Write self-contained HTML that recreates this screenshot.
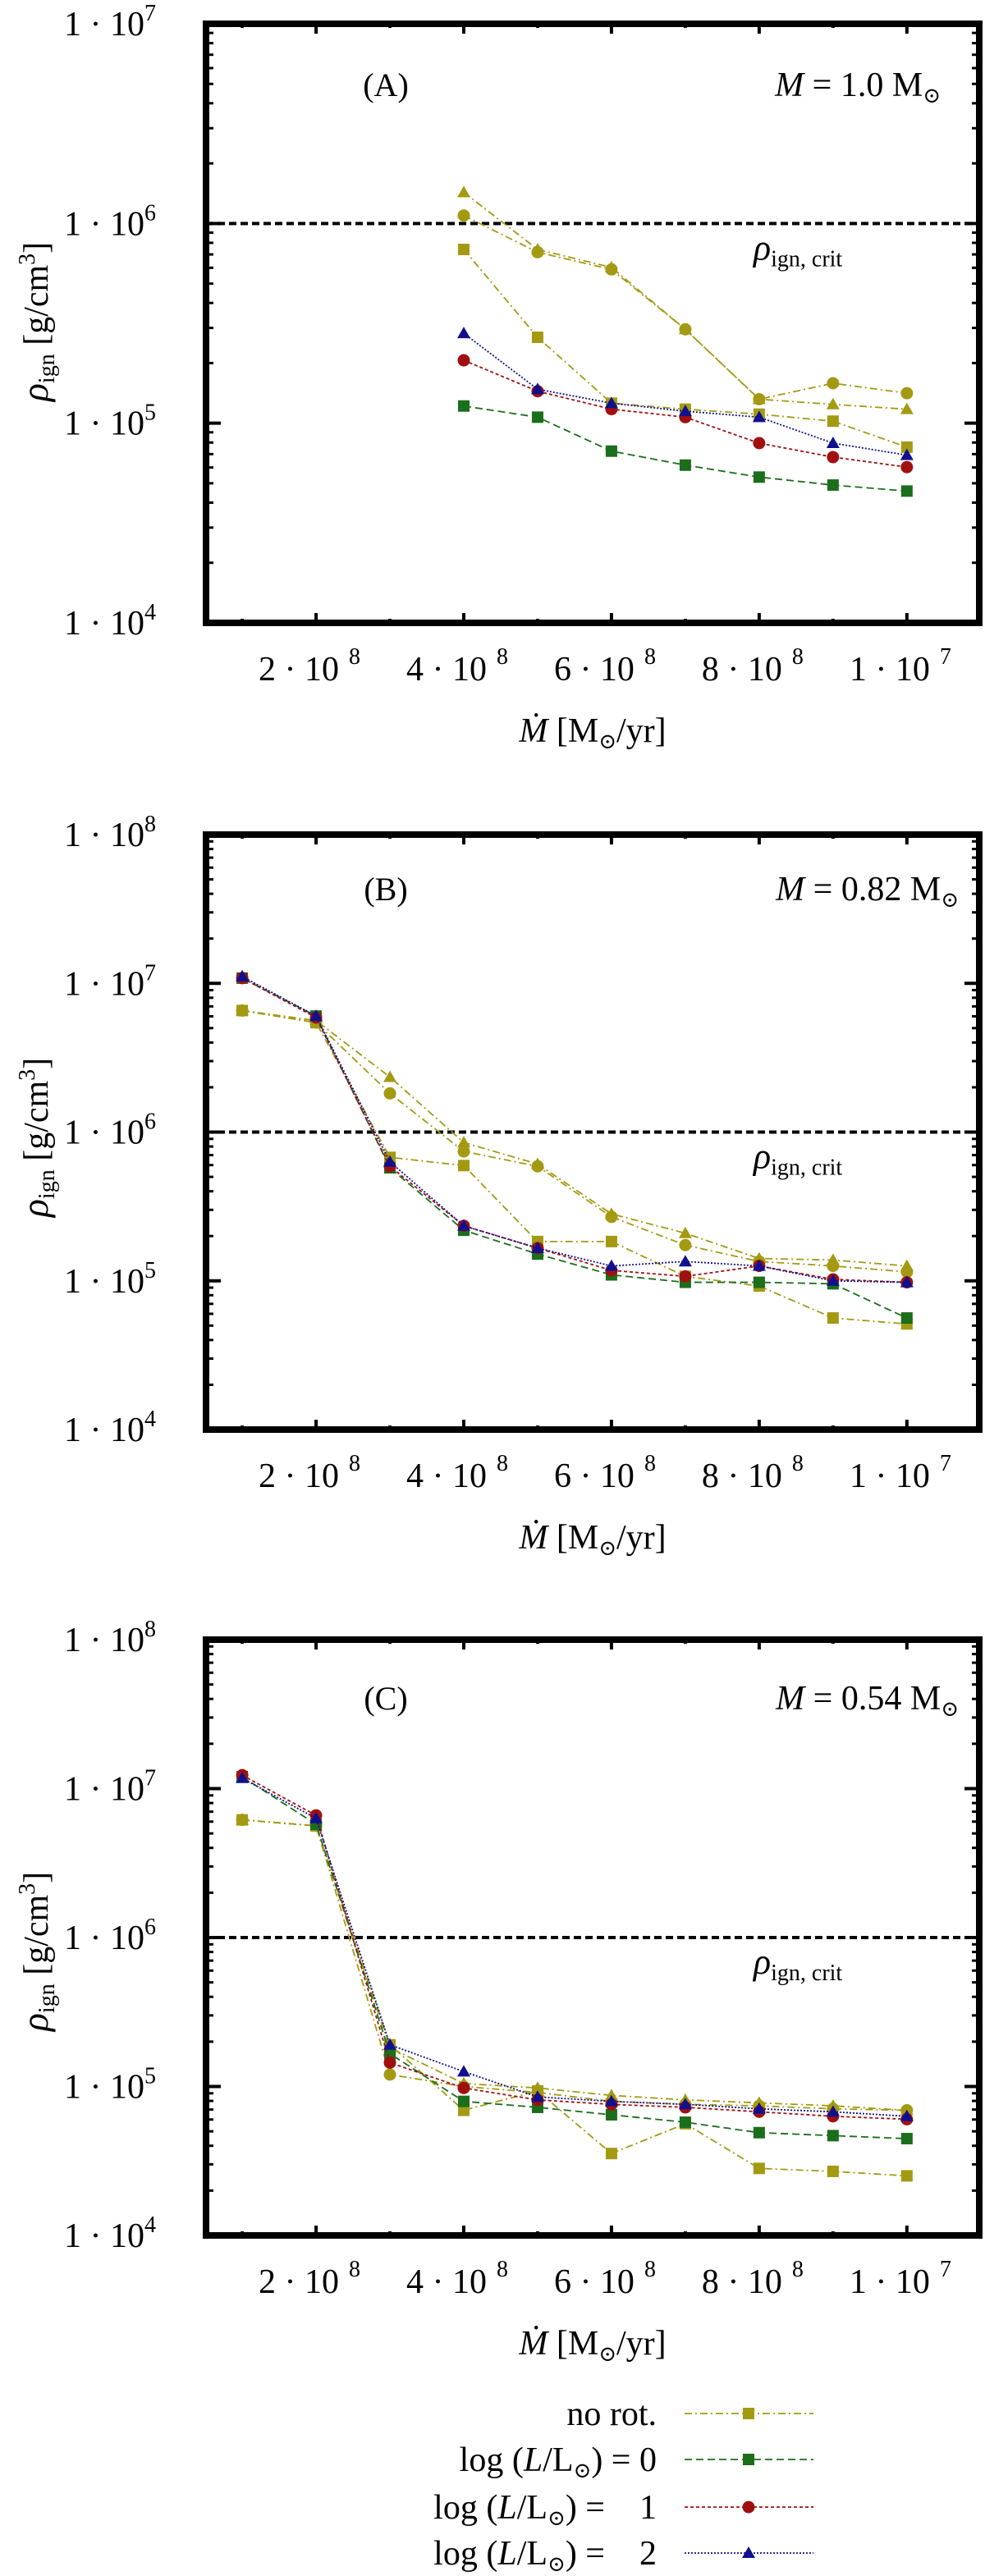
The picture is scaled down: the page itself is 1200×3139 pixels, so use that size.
<!DOCTYPE html>
<html><head><meta charset="utf-8"><style>
html,body{margin:0;padding:0;background:#fff;}
svg{display:block;font-family:"Liberation Serif","DejaVu Serif",serif;}
</style></head><body>
<svg id="chart" width="1200" height="3139" viewBox="0 0 1200 3139" xmlns="http://www.w3.org/2000/svg"></svg>
<script>
// ---- data ----
const xCats = [1,2,3,4,5,6,7,8,9,10];
const xTickVals = [2,4,6,8,10];
const xTickLabels = ["2 · 10","4 · 10","6 · 10","8 · 10","1 · 10"];
const xTickExps = ["8","8","8","8","7"];
// Panel A (log10 rho), x = 4..10
const aX = [4,5,6,7,8,9,10];
const aNoRot = [5.87,5.43,5.10,5.07,5.045,5.01,4.88];
const aCirc = [6.04,5.856,5.77,5.47,5.12,5.20,5.15];
const aTri = [6.156,5.87,5.78,5.47,5.12,5.094,5.07];
const aL0 = [5.086,5.03,4.86,4.79,4.73,4.69,4.66];
const aL1 = [5.315,5.16,5.07,5.03,4.90,4.83,4.78];
const aL2 = [5.45,5.17,5.10,5.06,5.03,4.90,4.84];
// Panel B, x = 1..10
const bNoRot = [6.817,6.736,5.83,5.775,5.264,5.264,5.03,4.965,4.75,4.71];
const bCirc = [6.817,6.736,6.26,5.87,5.77,5.43,5.24,5.13,5.10,5.06];
const bTri = [6.817,6.75,6.37,5.93,5.785,5.45,5.32,5.15,5.14,5.10];
const bL0 = [7.035,6.78,5.76,5.34,5.18,5.04,4.99,4.99,4.98,4.75];
const bL1 = [7.035,6.77,5.77,5.37,5.22,5.07,5.03,5.10,5.01,4.99];
const bL2 = [7.046,6.78,5.80,5.37,5.22,5.10,5.13,5.10,5.00,4.99];
// Panel C, x = 1..10
const cNoRot = [6.79,6.75,5.28,4.84,4.97,4.55,4.75,4.45,4.43,4.40];
const cCirc = [6.79,6.75,5.08,5.00,4.96,4.90,4.88,4.87,4.85,4.84];
const cTri = [6.79,6.75,5.26,5.02,4.99,4.94,4.91,4.89,4.87,4.84];
const cL0 = [7.08,6.76,5.22,4.90,4.86,4.81,4.76,4.69,4.67,4.65];
const cL1 = [7.09,6.82,5.16,4.99,4.91,4.88,4.86,4.83,4.80,4.78];
const cL2 = [7.07,6.80,5.28,5.10,4.93,4.90,4.88,4.85,4.83,4.80];
const critLog = 6;
const legendLabels = ["no rot.","log (L/L⊙) = 0","log (L/L⊙) =   1","log (L/L⊙) =   2"];

const NS="http://www.w3.org/2000/svg";
const svg=document.getElementById('chart');
function mk(tag,attrs,parent){const e=document.createElementNS(NS,tag);for(const k in attrs)e.setAttribute(k,attrs[k]);(parent||svg).appendChild(e);return e;}
const OLIVE="#a39a12",GREEN="#1b6e1b",RED="#a01010",BLUE="#10108f";
const styles={
 norot:{c:OLIVE,d:"9,4,2,4",m:"sq"},
 circ:{c:OLIVE,d:"9,4,2,4",m:"ci"},
 tri:{c:OLIVE,d:"9,4,2,4",m:"tr"},
 l0:{c:GREEN,d:"9,5",m:"sq"},
 l1:{c:RED,d:"4,3",m:"ci"},
 l2:{c:BLUE,d:"2,2",m:"tr"}
};
const L=251,R=1193,XMIN=0.51,XMAX=10.98;
function xs(v){return L+(v-XMIN)/(XMAX-XMIN)*(R-L);}
function marker(g,kind,x,y,col){
  let e;
  if(kind==="sq") e=mk('rect',{x:x-7,y:y-7,width:14,height:14,fill:col},g);
  else if(kind==="ci") e=mk('circle',{cx:x,cy:y,r:7.5,fill:col},g);
  else e=mk('polygon',{points:`${x},${y-8} ${x+8},${y+6} ${x-8},${y+6}`,fill:col},g);
  return e;
}
function panel(p){
  const g=mk('g',{});
  
  
  const ys=v=>p.bot-(v-p.lmin)/(p.lmax-p.lmin)*(p.bot-p.top);
  for(let d=p.lmin;d<p.lmax;d++){
    for(let k=2;k<=9;k++){
      const y=ys(d+Math.log10(k));
      mk('line',{x1:L,y1:y,x2:L+9,y2:y,stroke:'#000','stroke-width':3},g);
      mk('line',{x1:R,y1:y,x2:R-9,y2:y,stroke:'#000','stroke-width':3},g);
    }
  }
  for(let d=p.lmin;d<=p.lmax;d++){
    const y=ys(d);
    mk('line',{x1:L,y1:y,x2:L+18,y2:y,stroke:'#000','stroke-width':4},g);
    mk('line',{x1:R,y1:y,x2:R-18,y2:y,stroke:'#000','stroke-width':4},g);
    const t=mk('text',{x:190,y:y+14,'font-size':42,'text-anchor':'end'},g);
    
    
    t.textContent='1 · 10';
    const s=mk('tspan',{'font-size':28,dy:-18},t);s.textContent=String(d);
  }
  xCats.forEach(v=>{
    const x=xs(v),len=(v%2===0)?12:5;
    mk('line',{x1:x,y1:p.bot,x2:x,y2:p.bot-len,stroke:'#000','stroke-width':4},g);
    mk('line',{x1:x,y1:p.top,x2:x,y2:p.top+len,stroke:'#000','stroke-width':4},g);
  });
  xTickVals.forEach((v,i)=>{
    const t=mk('text',{x:xs(v)-70,y:p.bot+70,'font-size':42},g);
    
    
    t.textContent=xTickLabels[i];
    const s=mk('tspan',{'font-size':28,dx:12,dy:-20},t);s.textContent=xTickExps[i];
  });
  const cy=ys(critLog);
  const cl=mk('line',{x1:L,y1:cy,x2:R,y2:cy,stroke:'#000','stroke-width':4,'stroke-dasharray':'9,5'},g);
  
  
  const ct=mk('text',{x:918,y:cy+44,'font-size':40},g);
  
  
  const r1=mk('tspan',{'font-style':'italic','font-size':44},ct);r1.textContent='ρ';
  const r2=mk('tspan',{'font-size':28,dy:8},ct);r2.textContent='ign, crit';
  p.series.forEach(s=>{
    const st=styles[s.key];
    const sg=mk('g',{},g);
    
    
    const pts=s.vals.map((v,i)=>xs(p.x[i])+','+ys(v)).join(' ');
    mk('polyline',{points:pts,fill:'none',stroke:st.c,'stroke-width':1.8,'stroke-dasharray':st.d},sg);
    s.vals.forEach((v,i)=>{
      const m=marker(sg,st.m,xs(p.x[i]),ys(v),st.c);
      
      
    });
  });
  const fr=mk('rect',{x:L,y:p.top,width:R-L,height:p.bot-p.top,fill:'none',stroke:'#000','stroke-width':8},g);
  
  
  const pl=mk('text',{x:470,y:p.labY,'font-size':40,'text-anchor':'middle'},g);
  
  
  pl.textContent='('+p.id+')';
  const ml=mk('text',{x:p.mRight,y:p.labY,'font-size':42,'text-anchor':'end'},g);
  
  
  const m1=mk('tspan',{'font-style':'italic'},ml);m1.textContent='M';
  const m2=mk('tspan',{},ml);m2.textContent=' = '+p.mass+' M';
  const m3=mk('tspan',{'font-size':26,dy:8},ml);m3.textContent='⊙';
  const yt=mk('text',{x:0,y:0,'font-size':42,'text-anchor':'middle',transform:`translate(58,${p.ytY}) rotate(-90)`},g);
  
  
  const y1=mk('tspan',{'font-style':'italic','font-size':46},yt);y1.textContent='ρ';
  const y2=mk('tspan',{'font-size':28,dy:8},yt);y2.textContent='ign';
  const y3=mk('tspan',{dy:-8},yt);y3.textContent=' [g/cm';
  const y4=mk('tspan',{'font-size':28,dy:-16},yt);y4.textContent='3';
  const y5=mk('tspan',{dy:16},yt);y5.textContent=']';
  const xt=mk('text',{x:722,y:p.bot+145,'font-size':42,'text-anchor':'middle'},g);
  
  
  const x1=mk('tspan',{'font-style':'italic'},xt);x1.textContent='Ṁ';
  const x2=mk('tspan',{},xt);x2.textContent=' [M';
  const x3=mk('tspan',{'font-size':26,dy:8},xt);x3.textContent='⊙';
  const x4=mk('tspan',{dy:-8},xt);x4.textContent='/yr]';
}
panel({id:'A',top:29,bot:759,lmin:4,lmax:7,x:aX,labY:117,mRight:1146,mass:'1.0',ytY:392,
  series:[{key:'norot',vals:aNoRot},{key:'circ',vals:aCirc},{key:'tri',vals:aTri},{key:'l0',vals:aL0},{key:'l1',vals:aL1},{key:'l2',vals:aL2}]});
panel({id:'B',top:1017,bot:1742,lmin:4,lmax:8,x:xCats,labY:1097,mRight:1168,mass:'0.82',ytY:1386,
  series:[{key:'norot',vals:bNoRot},{key:'circ',vals:bCirc},{key:'tri',vals:bTri},{key:'l0',vals:bL0},{key:'l1',vals:bL1},{key:'l2',vals:bL2}]});
panel({id:'C',top:1998,bot:2724,lmin:4,lmax:8,x:xCats,labY:2083,mRight:1168,mass:'0.54',ytY:2378,
  series:[{key:'norot',vals:cNoRot},{key:'circ',vals:cCirc},{key:'tri',vals:cTri},{key:'l0',vals:cL0},{key:'l1',vals:cL1},{key:'l2',vals:cL2}]});
const lg=mk('g',{});


const legKeys=['norot','l0','l1','l2'];
const legY=[2941,2997,3055,3111];
legKeys.forEach((k,i)=>{
  const st=styles[k];
  const eg=mk('g',{},lg);
  
  
  const t=mk('text',{x:800,y:legY[i]+14,'font-size':42,'text-anchor':'end'},eg);
  if(i===0){t.textContent=legendLabels[0];}
  else{
    const a=mk('tspan',{},t);a.textContent='log (';
    const b=mk('tspan',{'font-style':'italic'},t);b.textContent='L';
    const c=mk('tspan',{},t);c.textContent='/L';
    const d=mk('tspan',{'font-size':26,dy:8},t);d.textContent='⊙';
    const e=mk('tspan',{dy:-8},t);e.textContent=i===1?') = 0':') =\u00a0\u00a0\u00a0\u00a0'+(i-1);
  }
  mk('line',{x1:834,y1:legY[i],x2:991,y2:legY[i],stroke:st.c,'stroke-width':1.8,'stroke-dasharray':st.d},eg);
  marker(eg,st.m,912,legY[i],st.c);
});
</script>
</body></html>
